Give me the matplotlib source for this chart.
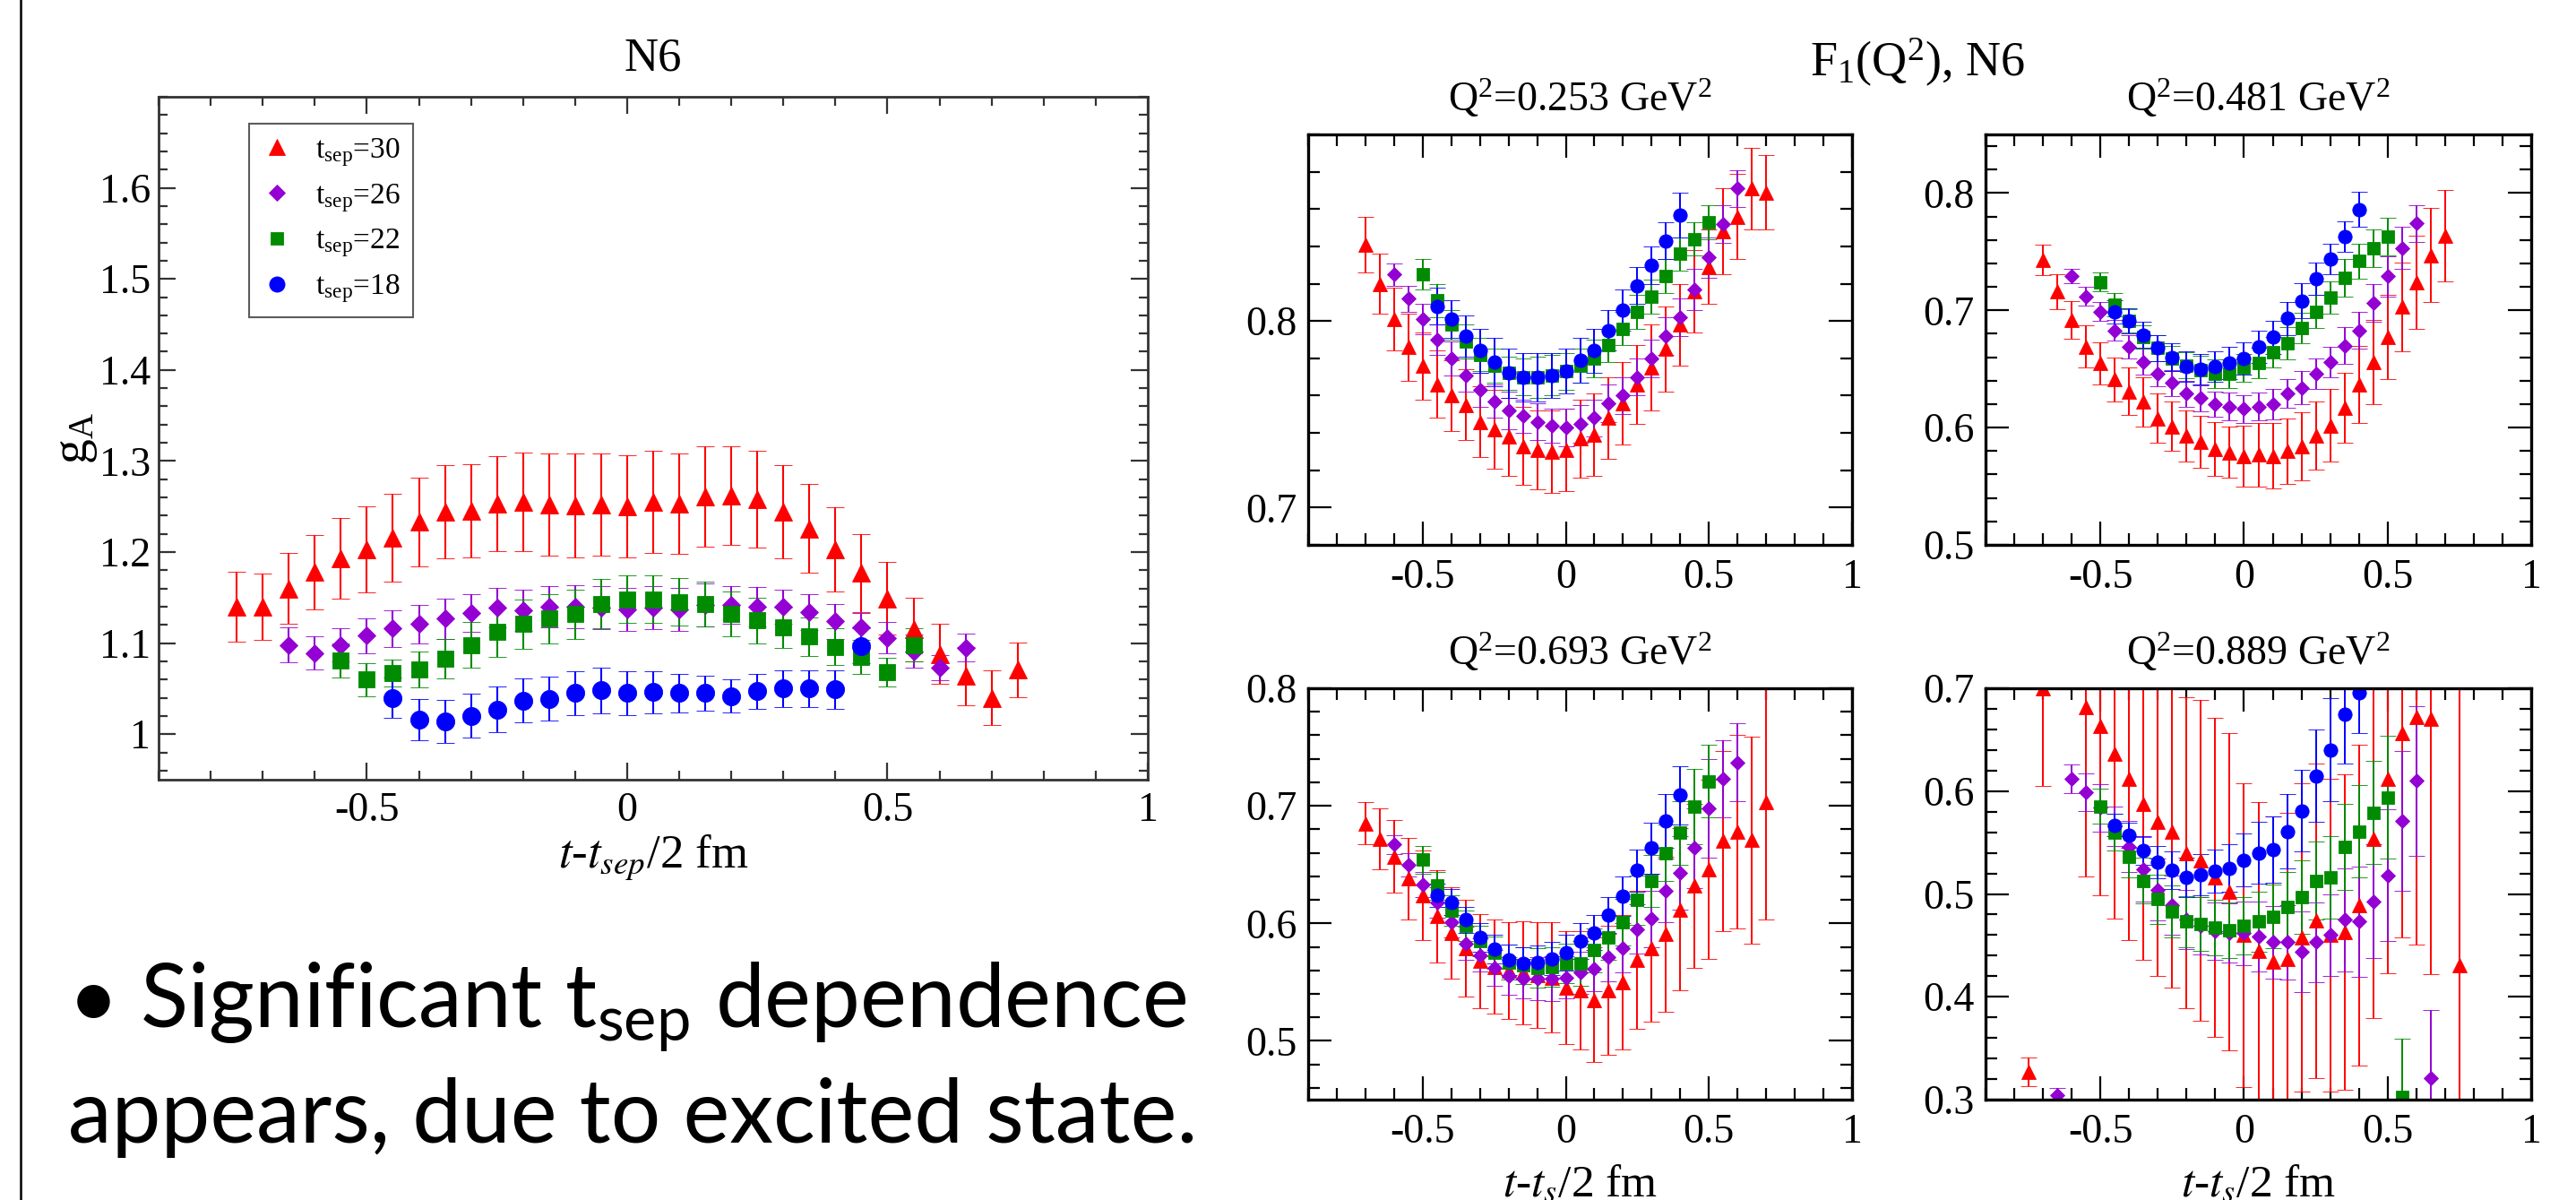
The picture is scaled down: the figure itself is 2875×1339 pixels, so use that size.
import numpy as np
import matplotlib
matplotlib.use('Agg')
import matplotlib.pyplot as plt
from matplotlib.lines import Line2D
from matplotlib.ticker import MultipleLocator, FixedLocator, FormatStrFormatter

plt.rcParams['font.family'] = 'Liberation Serif'
plt.rcParams['mathtext.fontset'] = 'stix'

# time slices t - t_sep/2 in fm
T_GRID = [-0.75, -0.70, -0.65, -0.60, -0.55, -0.50, -0.45, -0.40, -0.35, -0.30,
          -0.25, -0.20, -0.15, -0.10, -0.05, 0.00, 0.05, 0.10, 0.15, 0.20,
          0.25, 0.30, 0.35, 0.40, 0.45, 0.50, 0.55, 0.60, 0.65, 0.70, 0.75]

TSEP = [30, 26, 22, 18]

# ---- g_A, N6 ----
ga_t30 = T_GRID[0:31]
ga_30 = [1.140, 1.140, 1.160, 1.178, 1.193, 1.203, 1.216, 1.233, 1.244, 1.245,
         1.253, 1.255, 1.252, 1.251, 1.252, 1.250, 1.255, 1.253, 1.261, 1.262,
         1.258, 1.244, 1.226, 1.203, 1.177, 1.149, 1.115, 1.088, 1.064, 1.040, 1.071]
ga_30_err = [0.038, 0.036, 0.039, 0.041, 0.044, 0.047, 0.048, 0.049, 0.051, 0.051,
             0.052, 0.054, 0.056, 0.057, 0.056, 0.056, 0.056, 0.055, 0.055, 0.054,
             0.053, 0.051, 0.049, 0.046, 0.043, 0.040, 0.035, 0.033, 0.032, 0.030, 0.030]

ga_t26 = T_GRID[2:29]
ga_26 = [1.098, 1.089, 1.098, 1.108, 1.116, 1.121, 1.127, 1.133, 1.139, 1.136,
         1.140, 1.140, 1.139, 1.137, 1.139, 1.137, 1.142, 1.142, 1.140, 1.140,
         1.134, 1.124, 1.117, 1.106, 1.091, 1.073, 1.095]
ga_26_err = [0.019, 0.018, 0.018, 0.019, 0.020, 0.021, 0.022, 0.021, 0.022, 0.023,
             0.023, 0.024, 0.024, 0.024, 0.024, 0.024, 0.024, 0.021, 0.022, 0.019,
             0.020, 0.019, 0.016, 0.017, 0.018, 0.014, 0.015]

ga_t22 = T_GRID[4:27]
ga_22 = [1.081, 1.060, 1.067, 1.071, 1.083, 1.098, 1.112, 1.121, 1.127, 1.132,
         1.143, 1.148, 1.148, 1.145, 1.143, 1.132, 1.125, 1.117, 1.107, 1.096,
         1.085, 1.068, 1.098]
ga_22_err = [0.019, 0.018, 0.015, 0.020, 0.022, 0.025, 0.027, 0.027, 0.027, 0.027,
             0.027, 0.026, 0.026, 0.026, 0.025, 0.025, 0.025, 0.022, 0.021, 0.020,
             0.019, 0.016, 0.018]

ga_t18 = T_GRID[6:25]
ga_18 = [1.040, 1.016, 1.014, 1.020, 1.027, 1.037, 1.039, 1.045, 1.048, 1.045,
         1.046, 1.045, 1.045, 1.042, 1.047, 1.050, 1.050, 1.049, 1.097]
ga_18_err = [0.022, 0.023, 0.024, 0.024, 0.025, 0.024, 0.024, 0.024, 0.025, 0.024,
             0.023, 0.021, 0.019, 0.018, 0.019, 0.020, 0.020, 0.021, 0.019]

# ---- F1(Q^2), N6 ----
Q2 = ['0.253', '0.481', '0.693', '0.889']

f1_t30 = T_GRID[1:30]
f1_t26 = T_GRID[3:28]
f1_t22 = T_GRID[5:26]
f1_t18 = T_GRID[6:24]

# Q^2 = 0.253
fa_30 = [0.841, 0.820, 0.801, 0.786, 0.776, 0.766, 0.760, 0.755, 0.746, 0.742,
         0.738, 0.733, 0.731, 0.730, 0.731, 0.737, 0.739, 0.748, 0.756, 0.766,
         0.775, 0.785, 0.798, 0.816, 0.829, 0.848, 0.856, 0.871, 0.869]
fa_30_err = [0.015, 0.016, 0.017, 0.018, 0.018, 0.018, 0.019, 0.019, 0.019, 0.021,
             0.021, 0.021, 0.021, 0.022, 0.022, 0.021, 0.022, 0.022, 0.022, 0.021,
             0.023, 0.023, 0.022, 0.022, 0.020, 0.023, 0.023, 0.022, 0.020]
fa_26 = [0.825, 0.812, 0.801, 0.790, 0.780, 0.771, 0.763, 0.757, 0.752, 0.749,
         0.746, 0.744, 0.743, 0.745, 0.748, 0.756, 0.760, 0.770, 0.780, 0.792,
         0.802, 0.817, 0.834, 0.852, 0.871]
fa_26_err = [0.006, 0.007, 0.008, 0.008, 0.009, 0.009, 0.009, 0.009, 0.010, 0.009,
             0.010, 0.009, 0.010, 0.010, 0.010, 0.010, 0.010, 0.010, 0.010, 0.010,
             0.010, 0.011, 0.011, 0.010, 0.010]
fa_22 = [0.825, 0.811, 0.798, 0.789, 0.782, 0.776, 0.772, 0.770, 0.770, 0.771,
         0.773, 0.776, 0.780, 0.787, 0.796, 0.805, 0.813, 0.824, 0.836, 0.844, 0.853]
fa_22_err = [0.008, 0.009, 0.008, 0.009, 0.009, 0.009, 0.009, 0.010, 0.011, 0.011,
             0.010, 0.009, 0.010, 0.009, 0.009, 0.009, 0.009, 0.009, 0.009, 0.009, 0.009]
fa_18 = [0.808, 0.801, 0.792, 0.784, 0.778, 0.772, 0.770, 0.770, 0.771, 0.773,
         0.779, 0.784, 0.795, 0.806, 0.819, 0.830, 0.843, 0.857]
fa_18_err = [0.010, 0.010, 0.011, 0.012, 0.013, 0.013, 0.013, 0.013, 0.012, 0.012,
             0.012, 0.012, 0.011, 0.011, 0.010, 0.010, 0.010, 0.012]

# Q^2 = 0.481
fb_30 = [0.743, 0.716, 0.692, 0.669, 0.655, 0.641, 0.631, 0.622, 0.608, 0.601,
         0.593, 0.588, 0.582, 0.579, 0.576, 0.577, 0.576, 0.580, 0.584, 0.593,
         0.602, 0.617, 0.637, 0.656, 0.677, 0.703, 0.724, 0.747, 0.764]
fb_30_err = [0.013, 0.015, 0.016, 0.018, 0.018, 0.019, 0.020, 0.021, 0.021, 0.021,
             0.022, 0.022, 0.023, 0.022, 0.026, 0.027, 0.028, 0.028, 0.029, 0.029,
             0.031, 0.030, 0.033, 0.036, 0.036, 0.038, 0.040, 0.040, 0.039]
fb_26 = [0.729, 0.712, 0.699, 0.683, 0.669, 0.656, 0.646, 0.638, 0.629, 0.625,
         0.620, 0.618, 0.616, 0.618, 0.620, 0.629, 0.634, 0.646, 0.656, 0.670,
         0.683, 0.706, 0.729, 0.753, 0.774]
fb_26_err = [0.006, 0.008, 0.008, 0.009, 0.010, 0.011, 0.011, 0.011, 0.011, 0.011,
             0.011, 0.012, 0.012, 0.012, 0.013, 0.012, 0.014, 0.013, 0.013, 0.016,
             0.016, 0.016, 0.017, 0.018, 0.016]
fb_22 = [0.724, 0.705, 0.691, 0.677, 0.668, 0.659, 0.653, 0.649, 0.646, 0.646,
         0.651, 0.655, 0.664, 0.672, 0.685, 0.699, 0.711, 0.728, 0.742, 0.753, 0.763]
fb_22_err = [0.008, 0.010, 0.010, 0.010, 0.011, 0.011, 0.011, 0.012, 0.012, 0.012,
             0.012, 0.013, 0.013, 0.014, 0.013, 0.014, 0.014, 0.016, 0.015, 0.016, 0.016]
fb_18 = [0.699, 0.691, 0.679, 0.668, 0.660, 0.652, 0.650, 0.652, 0.655, 0.659,
         0.669, 0.677, 0.693, 0.708, 0.727, 0.744, 0.763, 0.786]
fb_18_err = [0.010, 0.011, 0.011, 0.011, 0.012, 0.013, 0.013, 0.013, 0.014, 0.014,
             0.014, 0.014, 0.014, 0.015, 0.014, 0.013, 0.013, 0.015]

# Q^2 = 0.693
fc_30 = [0.685, 0.672, 0.657, 0.638, 0.624, 0.606, 0.592, 0.579, 0.568, 0.563,
         0.560, 0.558, 0.556, 0.554, 0.545, 0.543, 0.535, 0.543, 0.550, 0.569,
         0.579, 0.591, 0.612, 0.632, 0.646, 0.670, 0.678, 0.671, 0.703]
fc_30_err = [0.018, 0.026, 0.031, 0.035, 0.038, 0.039, 0.039, 0.041, 0.040, 0.040,
             0.041, 0.044, 0.045, 0.047, 0.048, 0.050, 0.053, 0.055, 0.057, 0.059,
             0.063, 0.066, 0.069, 0.070, 0.076, 0.077, 0.082, 0.088, 0.100]
fc_26 = [0.667, 0.650, 0.633, 0.618, 0.601, 0.583, 0.573, 0.562, 0.555, 0.553,
         0.553, 0.553, 0.554, 0.558, 0.561, 0.571, 0.579, 0.595, 0.604, 0.628,
         0.643, 0.664, 0.698, 0.723, 0.737]
fc_26_err = [0.008, 0.010, 0.011, 0.013, 0.013, 0.014, 0.014, 0.015, 0.016, 0.017,
             0.018, 0.019, 0.018, 0.018, 0.019, 0.020, 0.021, 0.021, 0.024, 0.027,
             0.031, 0.034, 0.042, 0.033, 0.033]
fc_22 = [0.654, 0.632, 0.611, 0.598, 0.585, 0.575, 0.567, 0.564, 0.562, 0.563,
         0.566, 0.566, 0.577, 0.588, 0.601, 0.620, 0.636, 0.660, 0.677, 0.699, 0.721]
fc_22_err = [0.012, 0.012, 0.013, 0.013, 0.013, 0.014, 0.015, 0.016, 0.017, 0.017,
             0.017, 0.019, 0.019, 0.019, 0.020, 0.021, 0.022, 0.024, 0.027, 0.032, 0.031]
fc_18 = [0.624, 0.618, 0.603, 0.588, 0.578, 0.569, 0.566, 0.567, 0.570, 0.575,
         0.585, 0.592, 0.607, 0.623, 0.645, 0.664, 0.687, 0.709]
fc_18_err = [0.010, 0.011, 0.011, 0.012, 0.012, 0.013, 0.014, 0.014, 0.014, 0.015,
             0.015, 0.015, 0.015, 0.017, 0.018, 0.022, 0.023, 0.025]

# Q^2 = 0.889 (noisier, some slices fall outside the range)
fd_t30 = [-0.75, -0.70, -0.55, -0.50, -0.45, -0.40, -0.35, -0.30, -0.25, -0.20,
          -0.15, -0.10, -0.05, 0.00, 0.05, 0.10, 0.15, 0.20, 0.25, 0.30,
          0.35, 0.40, 0.45, 0.50, 0.55, 0.60, 0.65, 0.75]
fd_30 = [0.327, 0.700, 0.682, 0.663, 0.636, 0.612, 0.588, 0.570, 0.561, 0.540,
         0.533, 0.516, 0.502, 0.460, 0.445, 0.434, 0.437, 0.458, 0.474, 0.460,
         0.463, 0.489, 0.554, 0.612, 0.656, 0.672, 0.670, 0.431]
fd_30_err = [0.014, 0.095, 0.165, 0.164, 0.160, 0.157, 0.152, 0.150, 0.152, 0.151,
             0.156, 0.155, 0.154, 0.148, 0.144, 0.141, 0.142, 0.150, 0.153, 0.152,
             0.153, 0.156, 0.175, 0.189, 0.198, 0.221, 0.248, 0.300]
fd_t26 = T_GRID[2:29]
fd_26 = [0.304, 0.612, 0.599, 0.584, 0.566, 0.546, 0.524, 0.504, 0.489, 0.475,
         0.469, 0.464, 0.462, 0.462, 0.459, 0.453, 0.453, 0.444, 0.453, 0.460,
         0.475, 0.473, 0.493, 0.518, 0.571, 0.610, 0.321]
fd_26_err = [0.007, 0.014, 0.018, 0.023, 0.019, 0.025, 0.031, 0.030, 0.029, 0.029,
             0.028, 0.028, 0.029, 0.031, 0.034, 0.035, 0.036, 0.039, 0.039, 0.040,
             0.050, 0.054, 0.055, 0.064, 0.068, 0.073, 0.066]
fd_t22 = T_GRID[5:27]
fd_22 = [0.585, 0.560, 0.536, 0.513, 0.495, 0.483, 0.473, 0.471, 0.467, 0.465,
         0.469, 0.473, 0.478, 0.487, 0.497, 0.513, 0.516, 0.546, 0.561, 0.579,
         0.594, 0.303]
fd_22_err = [0.017, 0.018, 0.020, 0.022, 0.024, 0.025, 0.025, 0.026, 0.027, 0.027,
             0.028, 0.029, 0.031, 0.034, 0.036, 0.038, 0.040, 0.042, 0.045, 0.050,
             0.060, 0.056]
fd_t18 = T_GRID[6:24]
fd_18 = [0.567, 0.557, 0.542, 0.531, 0.523, 0.516, 0.519, 0.522, 0.525, 0.533,
         0.540, 0.543, 0.561, 0.581, 0.615, 0.640, 0.675, 0.696]
fd_18_err = [0.011, 0.012, 0.014, 0.016, 0.018, 0.019, 0.020, 0.021, 0.023, 0.026,
             0.030, 0.032, 0.036, 0.040, 0.045, 0.050, 0.048, 0.040]

# colours / symbols per t_sep (grace style)
COLORS = {30: '#ff0000', 26: '#9400d3', 22: '#008b00', 18: '#0000ff'}
MARKERS = {30: '^', 26: 'D', 22: 's', 18: 'o'}

W, H = 2875, 1339
fig = plt.figure(figsize=(W / 100, H / 100), dpi=100)


def px_axes(x0, y0, x1, y1):
    # axes from pixel box (top-left origin)
    return fig.add_axes([x0 / W, 1 - y1 / H, (x1 - x0) / W, (y1 - y0) / H])


def style_axes(ax, yticks, ylim, major_len, minor_len, spine_lw, spine_col, pad_x, pad_y):
    ax.set_xlim(-0.9, 1.0)
    ax.set_ylim(*ylim)
    ax.xaxis.set_major_locator(MultipleLocator(0.5))
    ax.xaxis.set_minor_locator(MultipleLocator(0.1))
    ax.yaxis.set_major_locator(FixedLocator(yticks))
    ax.yaxis.set_minor_locator(MultipleLocator(0.02))
    ax.xaxis.set_major_formatter(FormatStrFormatter('%g'))
    ax.yaxis.set_major_formatter(FormatStrFormatter('%g'))
    ax.tick_params(which='both', direction='in', top=True, right=True,
                   color=spine_col, labelsize=33, width=1.6)
    ax.tick_params(which='major', length=major_len)
    ax.tick_params(which='minor', length=minor_len)
    ax.tick_params(axis='x', pad=pad_x)
    ax.tick_params(axis='y', pad=pad_y)
    for s in ax.spines.values():
        s.set_linewidth(spine_lw)
        s.set_color(spine_col)


def draw_series(ax, t, val, err, tsep, ms, capsize, lw):
    col = COLORS[tsep]
    mk = MARKERS[tsep]
    size = ms * (0.72 if mk == 'D' else (0.86 if mk == 's' else 1.0))
    return ax.errorbar(t, val, yerr=err, fmt=mk, color=col, ms=size, mec=col,
                       mew=0.6, ecolor=col, elinewidth=lw, capsize=capsize,
                       capthick=lw)


# ---------------- left: g_A ----------------
ax = px_axes(177, 108, 1281, 870)
style_axes(ax, [1.0, 1.1, 1.2, 1.3, 1.4, 1.5, 1.6], (0.95, 1.7),
           13.5, 7, 2.0, '#333333', 10, 6.5)
ga_sets = [(ga_t30, ga_30, ga_30_err), (ga_t26, ga_26, ga_26_err),
           (ga_t22, ga_22, ga_22_err), (ga_t18, ga_18, ga_18_err)]
handles = []
for tsep, (t, v, e) in zip(TSEP, ga_sets):
    c = draw_series(ax, t, v, e, tsep, 14.5, 7.2, 1.5)
    handles.append(c[0])
ax.set_title('N6', fontsize=38, pad=21)
ax.set_xlabel(r'$t$-$t_{sep}$/2 fm', fontsize=38)
ax.xaxis.label.set_va('baseline')
ax.xaxis.set_label_coords(0.5, -0.128)
ax.set_ylabel(r'g$\mathregular{_A}$', fontsize=40)
ax.yaxis.label.set_va('center')
ax.yaxis.set_label_coords(-0.083, 0.5)
leg = ax.legend(handles, [r't$\mathregular{_{sep}}$=%d' % s for s in TSEP],
                loc='upper left', bbox_to_anchor=(0.0915, 0.961), borderaxespad=0,
                fontsize=24, frameon=True, fancybox=False, edgecolor='#333333',
                handlelength=1.0, handletextpad=0.8, borderpad=0.42,
                labelspacing=0.45, markerscale=0.85)
leg.get_frame().set_linewidth(1.5)

# ---------------- right: F1(Q^2) panels ----------------
panel_boxes = [(1460, 150, 2067, 608), (2216, 150, 2825, 608),
               (1460, 768, 2067, 1227), (2216, 768, 2825, 1227)]
panel_yticks = [[0.7, 0.8], [0.5, 0.6, 0.7, 0.8],
                [0.5, 0.6, 0.7, 0.8], [0.3, 0.4, 0.5, 0.6, 0.7]]
panel_ylim = [(0.68, 0.9), (0.5, 0.85), (0.45, 0.8), (0.3, 0.7)]
panel_data = [
    [(f1_t30, fa_30, fa_30_err), (f1_t26, fa_26, fa_26_err),
     (f1_t22, fa_22, fa_22_err), (f1_t18, fa_18, fa_18_err)],
    [(f1_t30, fb_30, fb_30_err), (f1_t26, fb_26, fb_26_err),
     (f1_t22, fb_22, fb_22_err), (f1_t18, fb_18, fb_18_err)],
    [(f1_t30, fc_30, fc_30_err), (f1_t26, fc_26, fc_26_err),
     (f1_t22, fc_22, fc_22_err), (f1_t18, fc_18, fc_18_err)],
    [(fd_t30, fd_30, fd_30_err), (fd_t26, fd_26, fd_26_err),
     (fd_t22, fd_22, fd_22_err), (fd_t18, fd_18, fd_18_err)],
]

for i, box in enumerate(panel_boxes):
    ax = px_axes(*box)
    style_axes(ax, panel_yticks[i], panel_ylim[i], 19, 9.5, 2.4, 'black', 11, 9)
    for tsep, (t, v, e) in zip(TSEP, panel_data[i]):
        draw_series(ax, t, v, e, tsep, 11, 6.8, 1.4)
    ax.set_title(r'Q$\mathregular{^2}$=%s GeV$\mathregular{^2}$' % Q2[i],
                 fontsize=33, pad=19)
    if i >= 2:
        ax.set_xlabel(r'$t$-$t_{s}$/2 fm', fontsize=37)
        ax.xaxis.label.set_va('baseline')
        ax.xaxis.set_label_coords(0.5, -0.235)

fig.text(2140 / W, 1 - 85 / H, r'F$\mathregular{_1}$(Q$\mathregular{^2}$), N6',
         fontsize=39, ha='center', va='baseline')

# slide border on the left
fig.add_artist(Line2D([23 / W, 23 / W], [0, 1], transform=fig.transFigure,
                      color='black', lw=1.8))

# bullet text
bullet_font = 'Lato'
b = fig.text(76 / W, 1 - 1147 / H, '\u2022', fontsize=64, family=bullet_font,
             ha='left', va='baseline')
line1 = fig.text(156 / W, 1 - 1147 / H,
                 r'Significant t$\mathregular{_{sep}}$ dependence',
                 fontsize=64, family=bullet_font, ha='left', va='baseline')
line2 = fig.text(76 / W, 1 - 1275 / H, 'appears, due to excited state.',
                 fontsize=64, family=bullet_font, ha='left', va='baseline')

renderer = fig.canvas.get_renderer()
w1 = line1.get_window_extent(renderer=renderer).width
w2 = line2.get_window_extent(renderer=renderer).width
scale = 0.5 * (1166 / w1 + 1263 / w2)
for t in (b, line1, line2):
    t.set_fontsize(64 * scale)

fig.savefig('out.png', dpi=100, facecolor='white')
